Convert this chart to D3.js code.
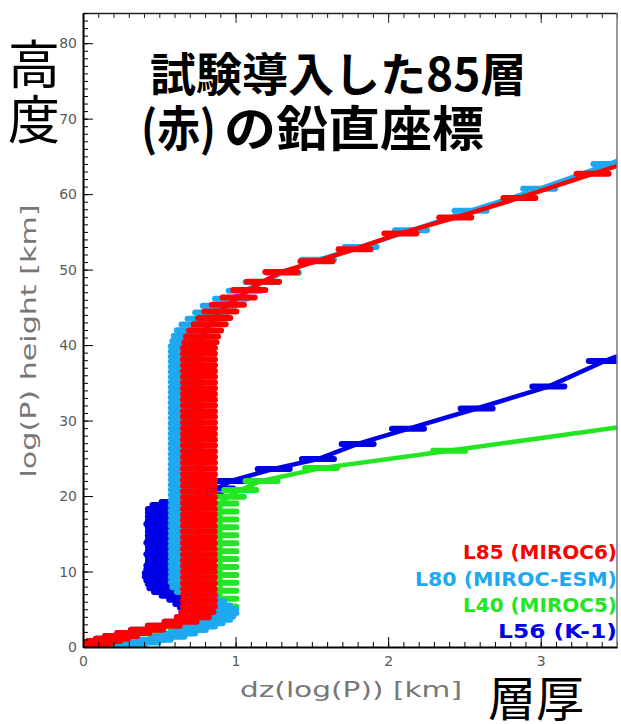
<!DOCTYPE html>
<html><head><meta charset="utf-8">
<script src="https://cdn.jsdelivr.net/npm/d3@7/dist/d3.min.js"></script>
<style>body{margin:0;background:#fff}svg{display:block}</style>
</head><body>
<svg id="chart" width="621" height="724"></svg>
<script>
// ---------------- data ----------------
const xTickLabels = [0, 1, 2, 3];
const yTickLabels = [0, 10, 20, 30, 40, 50, 60, 70, 80];

// L85 (MIROC6) – level height [km] and layer thickness dz [km]
const L85_z = [0.03,0.1,0.2,0.35,0.55,0.8,1.1,1.45,1.85,2.3,2.8,3.35,3.95,
  4.65,5.41,6.17,6.93,7.69,8.45,9.21,9.97,10.73,11.49,12.25,13.01,13.77,14.53,15.29,16.05,
  16.81,17.57,18.33,19.09,19.85,20.61,21.37,22.13,22.89,23.65,24.41,25.17,25.93,26.69,27.45,
  28.21,28.97,29.73,30.49,31.25,32.01,32.77,33.53,34.29,35.05,35.81,36.57,37.33,38.09,38.85,39.61,
  40.37,41.15,41.95,42.75,43.6,44.45,45.35,46.3,47.3,48.4,49.7,51.1,52.7,54.8,56.9,59.5,62.7,66.3];
const L85_dz = [0.01,0.02,0.04,0.06,0.09,0.14,0.19,0.25,0.33,0.42,0.53,0.64,0.72,
  0.75,0.76,0.76,0.76,0.76,0.76,0.76,0.76,0.76,0.76,0.76,0.76,0.76,0.76,0.76,0.76,
  0.76,0.76,0.76,0.76,0.76,0.76,0.76,0.76,0.76,0.76,0.76,0.76,0.76,0.76,0.76,
  0.76,0.76,0.76,0.76,0.76,0.76,0.76,0.76,0.76,0.76,0.76,0.76,0.76,0.76,0.76,0.76,
  0.77,0.78,0.80,0.83,0.86,0.90,0.95,1.02,1.09,1.18,1.30,1.53,1.78,2.08,2.44,2.86,3.34,3.90];

// L80 (MIROC-ESM)
const L80_z = [0.08,0.3,0.6,0.95,1.35,1.8,2.25,2.7,3.15,3.6,4.05,4.5,5.0,5.5,6.05,6.65,7.3,
  7.9,8.58,9.26,9.94,10.62,11.3,11.98,12.66,13.34,14.02,14.7,15.38,16.06,16.74,17.42,18.1,
  18.78,19.46,20.14,20.82,21.5,22.18,22.86,23.54,24.22,24.9,25.58,26.26,26.94,27.62,28.3,
  28.98,29.66,30.34,31.02,31.7,32.38,33.06,33.74,34.42,35.1,35.78,36.46,37.14,37.82,38.5,
  39.18,39.86,40.55,41.25,41.97,42.72,43.5,44.33,45.22,46.15,47.2,48.35,49.6,51.3,53.0,
  55.2,57.8,60.7,64.0,67.9];
const L80_dz = [0.22,0.3,0.39,0.47,0.56,0.63,0.7,0.76,0.81,0.86,0.88,0.9,0.9,0.86,0.82,0.77,0.72,
  0.69,0.68,0.68,0.68,0.68,0.68,0.68,0.68,0.68,0.68,0.68,0.68,0.68,0.68,0.68,0.68,
  0.68,0.68,0.68,0.68,0.68,0.68,0.68,0.68,0.68,0.68,0.68,0.68,0.68,0.68,0.68,
  0.68,0.68,0.68,0.68,0.68,0.68,0.68,0.68,0.68,0.68,0.68,0.68,0.68,0.68,0.68,
  0.68,0.68,0.69,0.70,0.72,0.75,0.79,0.84,0.89,0.97,1.06,1.17,1.31,1.54,1.82,
  2.15,2.54,2.99,3.45,3.95];

// L40 (MIROC5)
const L40_z = [0.12,0.45,0.95,1.6,2.4,3.3,4.3,5.35,6.4,7.45,8.5,9.55,10.6,11.65,12.7,13.75,
  14.8,15.85,16.9,17.95,19.0,19.9,20.8,22.0,23.7,26.0,30.2];
const L40_dz = [0.2,0.3,0.42,0.55,0.68,0.8,0.87,0.9,0.9,0.9,0.9,0.9,0.9,0.9,0.9,0.9,
  0.9,0.9,0.9,0.9,0.9,0.95,1.03,1.17,1.56,2.40,3.90];

// L56 (K-1)
const L56_z = [0.03,0.1,0.2,0.35,0.55,0.8,1.1,1.45,1.85,2.3,2.8,3.35,3.95,4.65,5.25,5.7,6.25,6.8,7.3,7.8,
  8.3,8.8,9.3,9.8,10.3,10.8,11.3,11.8,12.3,12.8,13.3,13.8,14.3,14.8,15.3,15.8,16.3,16.8,17.3,
  17.8,18.3,18.8,19.2,20.1,21.0,22.0,23.6,24.9,26.9,28.9,31.6,34.5,37.9,41.6];
const L56_dz = [0.01,0.02,0.04,0.06,0.09,0.14,0.19,0.25,0.33,0.42,0.53,0.64,0.72,0.75,0.74,0.71,0.67,0.62,0.57,0.54,
  0.53,0.52,0.51,0.51,0.52,0.52,0.53,0.53,0.52,0.53,0.53,0.52,0.53,0.53,0.53,0.53,0.52,0.53,0.53,
  0.53,0.53,0.56,0.62,0.80,0.88,0.97,1.25,1.54,1.80,2.13,2.58,3.05,3.42,3.90];

const seriesNames  = ["L85 (MIROC6)", "L80 (MIROC-ESM)", "L40 (MIROC5)", "L56 (K-1)"];
const seriesColors = ["#ff0000", "#1ea8f0", "#22e622", "#0000e6"];

// ---------------- chart ----------------
const svg = d3.select("#chart");
const W = 621, H = 724;
const m = {left: 83, right: 617, top: 13, bottom: 647};
const x = d3.scaleLinear().domain([0, 3.5]).range([m.left, m.right]);
const y = d3.scaleLinear().domain([0, 84]).range([m.bottom, m.top]);

svg.append("rect").attr("width", W).attr("height", H).attr("fill", "#fff");

svg.append("defs").append("clipPath").attr("id", "clip")
  .append("rect").attr("x", m.left).attr("y", m.top)
  .attr("width", m.right - m.left).attr("height", m.bottom - m.top);

const series = [
  {z: L56_z, dz: L56_dz, color: seriesColors[3]},
  {z: L40_z, dz: L40_dz, color: seriesColors[2]},
  {z: L80_z, dz: L80_dz, color: seriesColors[1]},
  {z: L85_z, dz: L85_dz, color: seriesColors[0]}
];

const plot = svg.append("g").attr("clip-path", "url(#clip)");
const line = d3.line().x(d => x(d[0])).y(d => y(d[1]));
const HALF = 16;
series.forEach(s => {
  const pts = s.z.map((z, i) => [s.dz[i], z]);
  const g = plot.append("g");
  g.append("path").datum(pts).attr("d", line)
    .attr("fill", "none").attr("stroke", s.color)
    .attr("stroke-width", 4.5).attr("stroke-linejoin", "round").attr("stroke-linecap", "round");
  g.selectAll("line").data(pts).join("line")
    .attr("x1", d => x(d[0]) - HALF).attr("x2", d => x(d[0]) + HALF)
    .attr("y1", d => y(d[1])).attr("y2", d => y(d[1]))
    .attr("stroke", s.color).attr("stroke-width", 6).attr("stroke-linecap", "round");
});

// axes
const tickFont = "DejaVu Sans, sans-serif";
function styleAxis(g, col) {
  g.select(".domain").attr("stroke", col);
  g.selectAll(".tick line").attr("stroke", col);
  g.selectAll("text").attr("fill", "#5a5a5a").attr("font-family", tickFont).attr("font-size", 14);
}
// bottom minor
const gbm = svg.append("g").attr("transform", `translate(0,${m.bottom})`)
  .call(d3.axisBottom(x).ticks(35).tickSize(-5).tickSizeOuter(0).tickFormat(""));
styleAxis(gbm, "#000");
const gb = svg.append("g").attr("transform", `translate(0,${m.bottom})`)
  .call(d3.axisBottom(x).tickValues(xTickLabels).tickSize(-10).tickSizeOuter(0).tickPadding(9).tickFormat(d3.format("d")));
styleAxis(gb, "#000");
gb.select(".domain").attr("stroke-width", 2);
// top
const gtm = svg.append("g").attr("transform", `translate(0,${m.top})`)
  .call(d3.axisTop(x).ticks(35).tickSize(-5).tickSizeOuter(0).tickFormat(""));
styleAxis(gtm, "#222");
const gt = svg.append("g").attr("transform", `translate(0,${m.top})`)
  .call(d3.axisTop(x).tickValues(xTickLabels).tickSize(-10).tickSizeOuter(0).tickFormat(""));
styleAxis(gt, "#222");
gt.select(".domain").attr("stroke-width", 1.5);
// left
const glm = svg.append("g").attr("transform", `translate(${m.left},0)`)
  .call(d3.axisLeft(y).ticks(84).tickSize(-5).tickSizeOuter(0).tickFormat(""));
styleAxis(glm, "#000");
const gl = svg.append("g").attr("transform", `translate(${m.left},0)`)
  .call(d3.axisLeft(y).tickValues(yTickLabels).tickSize(-10).tickSizeOuter(0).tickPadding(6).tickFormat(d3.format("d")));
styleAxis(gl, "#000");
gl.select(".domain").attr("stroke-width", 2);
// right border
svg.append("line").attr("x1", m.right).attr("x2", m.right).attr("y1", m.top).attr("y2", m.bottom)
  .attr("stroke", "#777").attr("stroke-width", 1.5);

// axis titles
svg.append("text").attr("transform", "translate(36,341) rotate(-90)")
  .attr("text-anchor", "middle").attr("font-family", tickFont).attr("font-size", 21)
  .attr("fill", "#777").attr("textLength", 273).attr("lengthAdjust", "spacingAndGlyphs")
  .text("log(P) height [km]");
svg.append("text").attr("x", 351).attr("y", 697)
  .attr("text-anchor", "middle").attr("font-family", tickFont).attr("font-size", 21)
  .attr("fill", "#777").attr("textLength", 222).attr("lengthAdjust", "spacingAndGlyphs")
  .text("dz(log(P)) [km]");

// legend
const legendBase = [559, 586, 612, 638];
const legendW = [154, 202, 154, 119];
seriesNames.forEach((n, i) => {
  svg.append("text").attr("x", 617).attr("y", legendBase[i])
    .attr("text-anchor", "end").attr("font-family", "DejaVu Sans, sans-serif")
    .attr("font-weight", "bold").attr("font-size", 20)
    .attr("textLength", legendW[i]).attr("lengthAdjust", "spacingAndGlyphs")
    .attr("fill", seriesColors[i]).text(n);
});

// Japanese annotations
const jp = "'Noto Sans CJK JP', sans-serif";
svg.append("text").attr("x", 150).attr("y", 91).attr("font-family", jp)
  .attr("font-weight", "bold").attr("font-size", 46).attr("fill", "#000").text("試験導入した85層");
svg.append("text").attr("x", 141).attr("y", 146).attr("font-family", jp)
  .attr("font-weight", "bold").attr("font-size", 48).attr("fill", "#000")
  .attr("textLength", 75).attr("lengthAdjust", "spacingAndGlyphs").text("(赤)");
svg.append("text").attr("x", 224).attr("y", 146).attr("font-family", jp)
  .attr("font-weight", "bold").attr("font-size", 48).attr("fill", "#000")
  .attr("textLength", 260).attr("lengthAdjust", "spacingAndGlyphs").text("の鉛直座標");
svg.append("text").attr("x", 8).attr("y", 84).attr("font-family", jp)
  .attr("font-size", 52).attr("fill", "#000").text("高");
svg.append("text").attr("x", 8).attr("y", 139).attr("font-family", jp)
  .attr("font-size", 52).attr("fill", "#000").text("度");
svg.append("text").attr("x", 488).attr("y", 716).attr("font-family", jp)
  .attr("font-size", 48).attr("fill", "#000").text("層厚");
</script>
</body></html>
